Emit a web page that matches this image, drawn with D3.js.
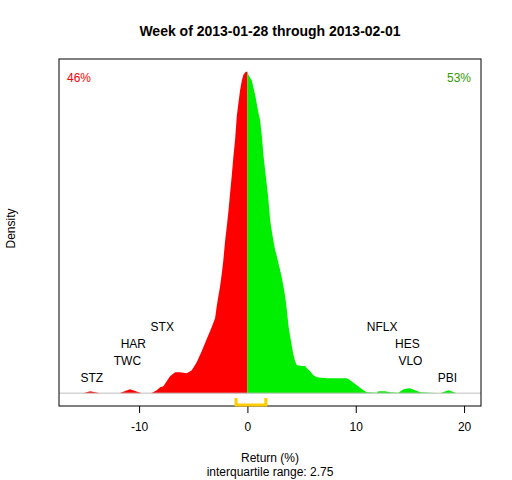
<!DOCTYPE html>
<html>
<head>
<meta charset="utf-8">
<script src="https://cdn.jsdelivr.net/npm/d3@7"></script>
<style>
  body { margin: 0; background: #fff; }
  text { font-family: "Liberation Sans", Arial, sans-serif; }
</style>
</head>
<body>
<svg id="chart" width="512" height="480"></svg>
<script>
// Density of weekly returns (return %, density).
var returnGrid = [-15.95, -15.14, -14.52, -13.6, -11.82, -10.84, -9.75, -8.89, -8.37, -8.06,
  -7.76, -7.14, -6.68, -6.21, -5.6, -5.13, -4.67, -4.21, -3.91, -3.6,
  -3.29, -2.98, -2.83, -2.68, -2.52, -2.36, -2.22, -2.06, -1.9, -1.75,
  -1.6, -1.44, -1.29, -1.14, -0.98, -0.83, -0.67, -0.52, -0.37, -0.15,
  0, 0.09, 0.41, 0.71, 1.02, 1.17, 1.33, 1.48, 1.63, 1.79,
  1.94, 2.1, 2.25, 2.4, 2.56, 2.71, 2.86, 3.02, 3.18, 3.32,
  3.48, 3.64, 3.79, 3.94, 4.1, 4.25, 4.4, 4.56, 5.02, 5.33,
  5.48, 5.79, 6.09, 6.41, 7.33, 9.18, 9.48, 10.1, 10.71, 11.03,
  11.95, 12.1, 12.71, 13.18, 13.94, 14.4, 14.96, 15.49, 15.95, 17.79,
  18.56, 19.34, 20.12];
var densityValues = [0, 0, 0.002, 0, 0, 0.004, 0, 0, 0.003, 0.006,
  0.007, 0.017, 0.021, 0.021, 0.020, 0.023, 0.031, 0.042, 0.050, 0.058,
  0.066, 0.075, 0.087, 0.097, 0.107, 0.120, 0.133, 0.152, 0.167, 0.182,
  0.200, 0.218, 0.237, 0.253, 0.277, 0.290, 0.303, 0.312, 0.318, 0.321,
  0.321, 0.318, 0.312, 0.298, 0.280, 0.273, 0.257, 0.238, 0.223, 0.208,
  0.193, 0.173, 0.162, 0.152, 0.143, 0.137, 0.130, 0.123, 0.115, 0.107,
  0.097, 0.083, 0.067, 0.057, 0.047, 0.038, 0.032, 0.028, 0.027, 0.027,
  0.025, 0.022, 0.018, 0.016, 0.015, 0.015, 0.013, 0.008, 0.003, 0.001,
  0.0005, 0.002, 0.002, 0.001, 0.0005, 0.004, 0.005, 0.003, 0.001, 0,
  0.003, 0, 0];

// Extreme movers of the week.
var tickers = ["STZ", "TWC", "HAR", "STX", "NFLX", "HES", "VLO", "PBI"];
var tickerReturns = [-14.37, -11.08, -10.53, -7.86, 12.43, 14.77, 15.05, 18.46];

var xTicks = [-10, 0, 10, 20];
var quartiles = [-1.05, 1.70];
var shareDown = "46%";
var shareUp = "53%";

function drawChart() {
  var svg = d3.select("#chart");
  var plotLeft = 59, plotRight = 481, plotTop = 59, plotBottom = 406;

  var pts = returnGrid.map(function(r, i) { return {x: r, y: densityValues[i]}; });

  // R style axes: 4% padding on each side
  var xExt = d3.extent(returnGrid);
  var xPad = (xExt[1] - xExt[0]) * 0.04;
  var x = d3.scaleLinear().domain([xExt[0] - xPad, xExt[1] + xPad]).range([plotLeft, plotRight]);
  var yMax = d3.max(densityValues);
  var y = d3.scaleLinear().domain([-yMax * 0.04, yMax * 1.04]).range([plotBottom, plotTop]);

  svg.append("text")
    .attr("x", (plotLeft + plotRight) / 2).attr("y", 36)
    .attr("text-anchor", "middle")
    .style("font-size", "14px").style("font-weight", "bold")
    .text("Week of 2013-01-28 through 2013-02-01");

  var area = d3.area()
    .x(function(d) { return x(d.x); })
    .y0(y(0))
    .y1(function(d) { return y(d.y); });

  svg.append("path")
    .datum(pts.filter(function(d) { return d.x <= 0; }))
    .attr("d", area).attr("fill", "#FF0000");
  svg.append("path")
    .datum(pts.filter(function(d) { return d.x >= 0; }))
    .attr("d", area).attr("fill", "#00EE00");

  svg.append("line")
    .attr("x1", plotLeft).attr("x2", plotRight)
    .attr("y1", y(0)).attr("y2", y(0))
    .attr("stroke", "#BEBEBE").attr("stroke-width", 1);

  // labels stacked by rank from the outside in
  tickers.forEach(function(name, i) {
    var r = tickerReturns[i];
    var sameSide = tickerReturns.filter(function(v) { return (v < 0) == (r < 0); });
    var level = sameSide.filter(function(v) { return Math.abs(v) > Math.abs(r); }).length;
    svg.append("text")
      .attr("x", x(r)).attr("y", y(0) - 15.6 - level * 16.8)
      .attr("dy", "0.35em")
      .attr("text-anchor", "middle")
      .style("font-size", "12px").attr("fill", "#000")
      .text(name);
  });

  svg.append("text")
    .attr("x", 79).attr("y", 78).attr("dy", "0.35em")
    .attr("text-anchor", "middle")
    .style("font-size", "12px").attr("fill", "#FF0000")
    .text(shareDown);
  svg.append("text")
    .attr("x", 459).attr("y", 78).attr("dy", "0.35em")
    .attr("text-anchor", "middle")
    .style("font-size", "12px").attr("fill", "#339900")
    .text(shareUp);

  svg.append("rect")
    .attr("x", plotLeft).attr("y", plotTop)
    .attr("width", plotRight - plotLeft).attr("height", plotBottom - plotTop)
    .attr("fill", "none").attr("stroke", "#000").attr("stroke-width", 1);

  var xAxis = svg.append("g")
    .attr("transform", "translate(0," + plotBottom + ")")
    .call(d3.axisBottom(x).tickValues(xTicks).tickSize(7).tickPadding(9)
      .tickFormat(function(d) { return String(d); }));
  xAxis.select(".domain").remove();
  xAxis.selectAll("line").attr("stroke", "#000");
  xAxis.selectAll("text").style("font-size", "12px")
    .style("font-family", "'Liberation Sans', Arial, sans-serif").attr("fill", "#000");

  // interquartile bracket under the axis
  svg.append("path")
    .attr("d", "M" + x(quartiles[0]) + "," + (plotBottom - 8) +
      "V" + (plotBottom - 1) + "H" + x(quartiles[1]) + "V" + (plotBottom - 8))
    .attr("fill", "none").attr("stroke", "#FFCC00").attr("stroke-width", 3);

  svg.append("text")
    .attr("x", (plotLeft + plotRight) / 2).attr("y", 458).attr("dy", "0.35em")
    .attr("text-anchor", "middle").style("font-size", "12px")
    .text("Return (%)");
  svg.append("text")
    .attr("x", (plotLeft + plotRight) / 2).attr("y", 471.5).attr("dy", "0.35em")
    .attr("text-anchor", "middle").style("font-size", "12px")
    .text("interquartile range: " + (quartiles[1] - quartiles[0]).toFixed(2));

  svg.append("text")
    .attr("transform", "translate(11," + ((plotTop + plotBottom) / 2 - 4) + ") rotate(-90)")
    .attr("dy", "0.35em")
    .attr("text-anchor", "middle").style("font-size", "12px")
    .text("Density");
}

drawChart();
</script>
</body>
</html>
